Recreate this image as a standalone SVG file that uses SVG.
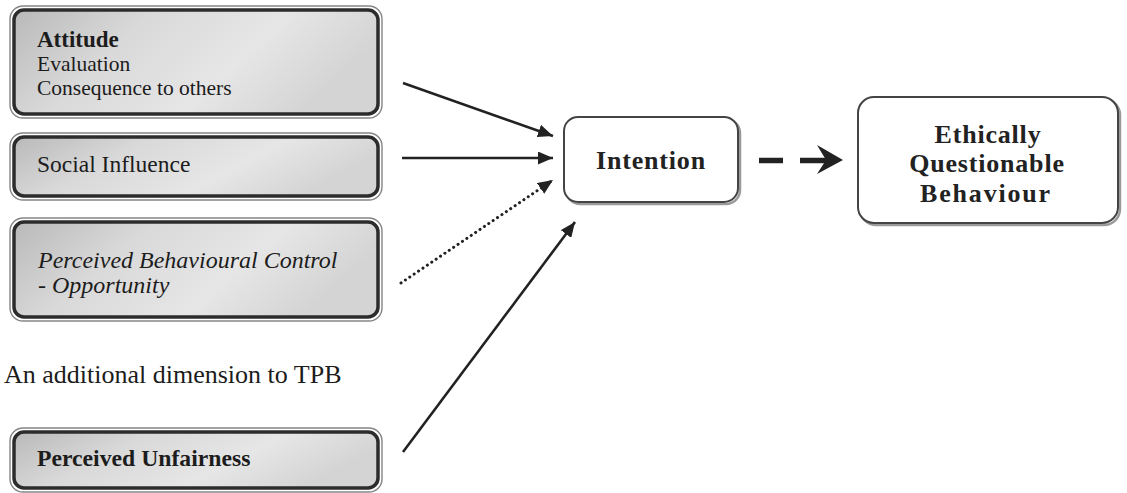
<svg xmlns="http://www.w3.org/2000/svg" width="1127" height="493" viewBox="0 0 1127 493">
  <defs>
    <linearGradient id="metal" x1="0" y1="0" x2="1" y2="0.3">
      <stop offset="0" stop-color="#b9b9b9"/>
      <stop offset="0.35" stop-color="#d9d9d9"/>
      <stop offset="0.7" stop-color="#e6e6e6"/>
      <stop offset="1" stop-color="#d4d4d4"/>
    </linearGradient>
    <marker id="head" viewBox="0 0 15 13" refX="15" refY="6.5" markerWidth="15" markerHeight="13" markerUnits="userSpaceOnUse" orient="auto">
      <path d="M0,0 L15,6.5 L0,13 z" fill="#222"/>
    </marker>
  </defs>
  <style>
    .outer { fill: none; stroke: #858585; stroke-width: 1.4; }
    .inner { fill: url(#metal); stroke: #2c2c2c; stroke-width: 3.5; }
    .plain { fill: #ffffff; stroke: #444; stroke-width: 2; }
    .shadow { fill: none; stroke: #9a9a9a; stroke-width: 2.5; }
    .t { font-family: "Liberation Serif", "Times New Roman", serif; fill: #1c1c1c; }
    .b { font-weight: bold; }
    .i { font-style: italic; }
    .big { font-size: 26px; font-weight: bold; letter-spacing: 0.8px; text-anchor: middle; fill: #222; }
    .link { stroke: #222; stroke-width: 2.6; fill: none; marker-end: url(#head); }
    .dots { stroke-dasharray: 0.1 5.2; stroke-linecap: round; stroke-width: 3; }
  </style>

  <rect width="1127" height="493" fill="#ffffff"/>

  <!-- Attitude -->
  <g id="attitude">
    <rect class="outer" x="10" y="6" width="372" height="112" rx="13"/>
    <rect class="inner" x="14" y="10" width="364" height="104" rx="10"/>
    <text class="t b" x="37" y="47" font-size="23">Attitude</text>
    <text class="t" x="37" y="71" font-size="21.5">Evaluation</text>
    <text class="t" x="37" y="95" font-size="21.5">Consequence to others</text>
  </g>

  <!-- Social influence -->
  <g id="social">
    <rect class="outer" x="10" y="133" width="372" height="67" rx="13"/>
    <rect class="inner" x="14" y="137" width="364" height="59" rx="10"/>
    <text class="t" x="37" y="172" font-size="23.5">Social Influence</text>
  </g>

  <!-- Perceived behavioural control -->
  <g id="pbc">
    <rect class="outer" x="10" y="218" width="372" height="103" rx="13"/>
    <rect class="inner" x="14" y="222" width="364" height="95" rx="10"/>
    <text class="t i" x="38" y="268" font-size="24">Perceived Behavioural Control</text>
    <text class="t i" x="38" y="293" font-size="24">- Opportunity</text>
  </g>

  <!-- Extra dimension -->
  <g id="note">
    <text class="t" x="4" y="383" font-size="26">An additional dimension to TPB</text>
  </g>

  <!-- Perceived unfairness -->
  <g id="unfairness">
    <rect class="outer" x="10" y="428" width="372" height="64" rx="13"/>
    <rect class="inner" x="14" y="432" width="364" height="56" rx="10"/>
    <text class="t b" x="37" y="466" font-size="23.7">Perceived Unfairness</text>
  </g>

  <!-- Intention -->
  <g id="intention">
    <rect class="shadow" x="566" y="119" width="174" height="85" rx="14"/>
    <rect class="plain" x="564" y="117" width="174" height="85" rx="14"/>
    <text class="t big" x="651" y="169">Intention</text>
  </g>

  <!-- Behaviour -->
  <g id="behaviour">
    <rect class="shadow" x="860" y="99" width="260" height="126" rx="16"/>
    <rect class="plain" x="858" y="97" width="260" height="126" rx="16"/>
    <text class="t big" x="988" y="143">Ethically</text>
    <text class="t big" x="987" y="172">Questionable</text>
    <text class="t big" x="986" y="202" style="letter-spacing:1.8px">Behaviour</text>
  </g>

  <!-- Connectors -->
  <g id="connectors">
    <line class="link" x1="403" y1="83" x2="553" y2="136"/>
    <line class="link" x1="402" y1="158" x2="553" y2="158"/>
    <line class="link dots" x1="401" y1="283" x2="553" y2="180"/>
    <line class="link" x1="403" y1="452" x2="575" y2="222"/>
    <line x1="759" y1="160.5" x2="783" y2="160.5" stroke="#222" stroke-width="5.5"/>
    <line x1="800" y1="160.5" x2="826" y2="160.5" stroke="#222" stroke-width="5.5"/>
    <path d="M843,160 L817,145 L826,160 L817,174 z" fill="#222"/>
  </g>
</svg>
